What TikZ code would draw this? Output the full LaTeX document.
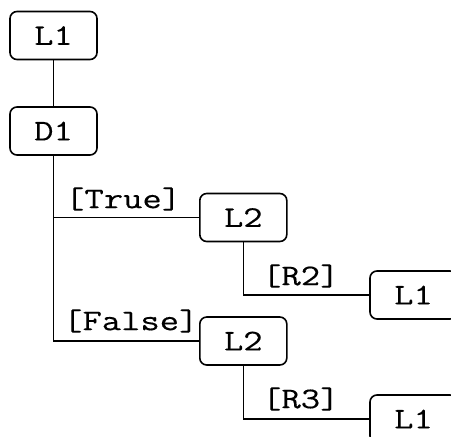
\documentclass[tikz,border=0pt]{standalone}
\usepackage{fontspec}
\newfontfamily\diafont[FakeStretch=1.25,FakeBold=0.3]{Latin Modern Mono}
\begin{document}
\begin{tikzpicture}[x=1pt,y=-1pt,
  box/.style={draw, line width=1.6pt, rounded corners=7pt, minimum width=87pt, minimum height=48pt, inner sep=0pt, font=\diafont\fontsize{30}{30}\selectfont},
  lbl/.style={inner sep=0pt, anchor=west, font=\diafont\fontsize{30}{30}\selectfont},
  conn/.style={line width=1.6pt}]
\useasboundingbox (0,0) rectangle (451,437);
\begin{scope}
\clip (0,0) rectangle (451,437);
\node[box] (l1) at (53.5,35.5) {L1};
\node[box] (d1) at (53.5,131) {D1};
\node[box] (l2a) at (243.3,217.5) {L2};
\node[box] (l2b) at (243.3,341) {L2};
\node[box] (l1c) at (413.5,295) {L1};
\node[box] (l1d) at (413.5,419) {L1};
\coordinate (ta) at (53.5,217.5);
\coordinate (tb) at (53.5,341);
\coordinate (ra) at (243.3,295);
\coordinate (rb) at (243.3,419);
\draw[conn] (l1) -- (d1);
\draw[conn] (d1) -- (tb) -- (l2b);
\draw[conn] (ta) -- (l2a);
\draw[conn] (l2a) -- (ra) -- (l1c);
\draw[conn] (l2b) -- (rb) -- (l1d);
\node[lbl] at (65,199) {[True]};
\node[lbl] at (63,321) {[False]};
\node[lbl] at (262,276) {[R2]};
\node[lbl] at (262,399) {[R3]};
\end{scope}
\end{tikzpicture}
\end{document}
